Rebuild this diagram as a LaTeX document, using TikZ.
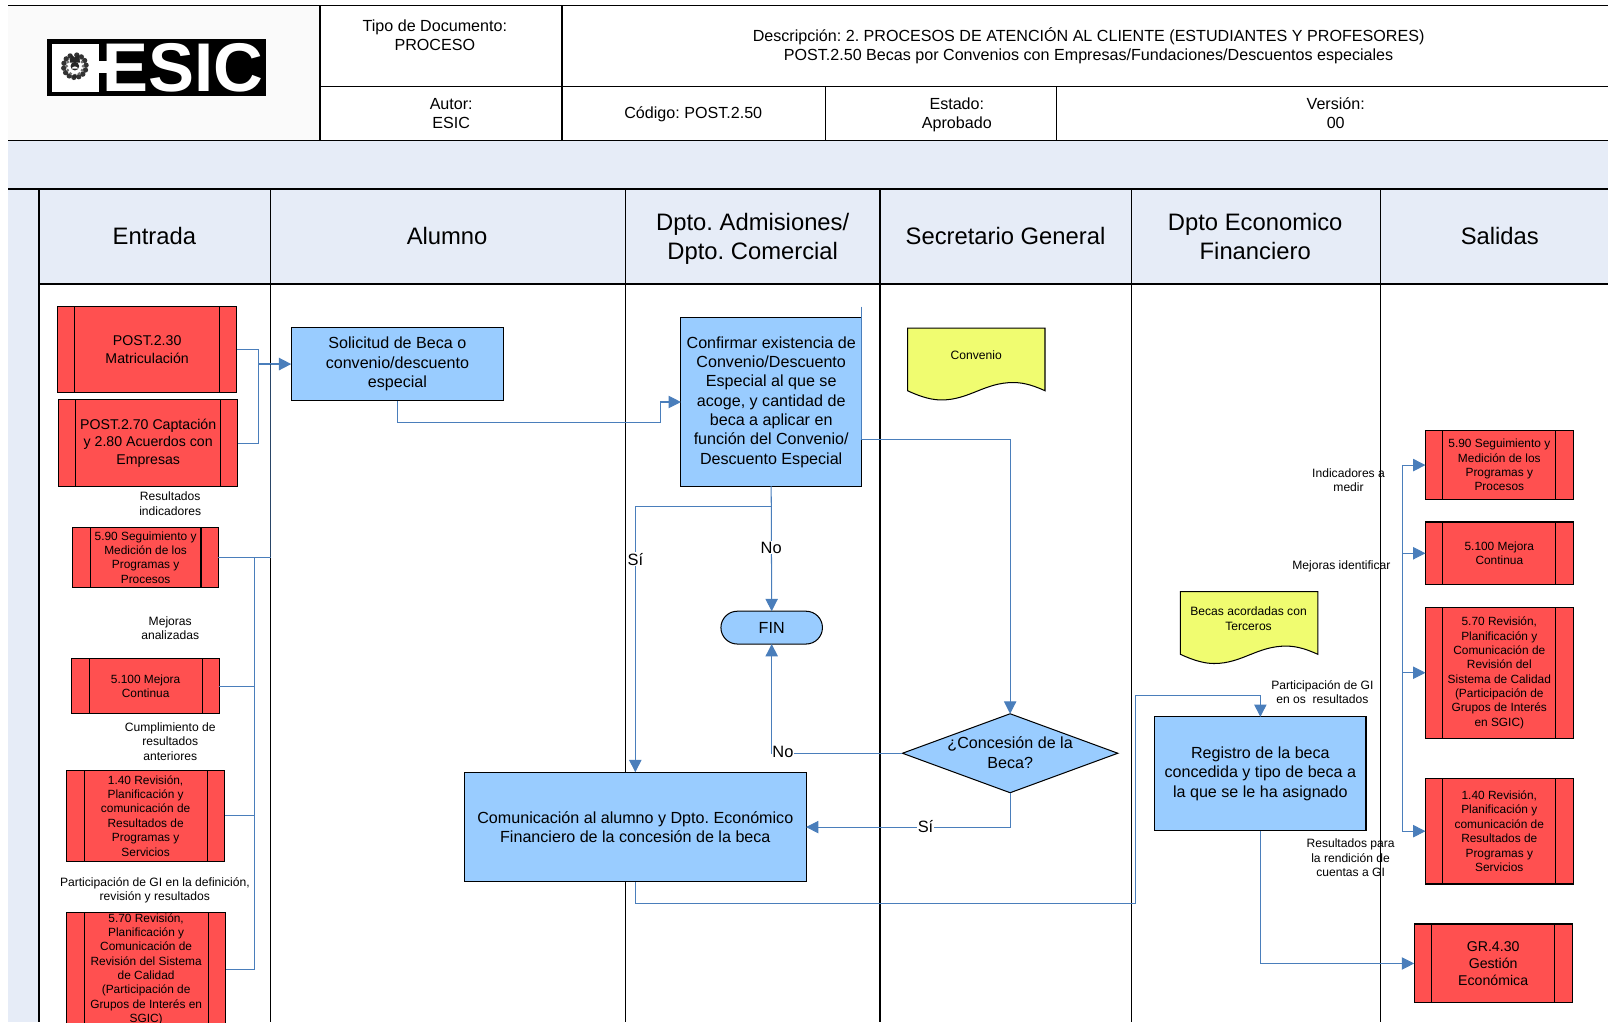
\documentclass[tikz,border=0pt]{standalone}
\usepackage{fontspec}
\setmainfont{Liberation Sans}
\usetikzlibrary{arrows.meta,shapes.geometric}
\definecolor{bandblue}{HTML}{E6ECF7}
\definecolor{cellgray}{HTML}{FAFAFA}
\definecolor{procred}{HTML}{FF5050}
\definecolor{flowblue}{HTML}{99CCFF}
\definecolor{docyellow}{HTML}{F0FC70}
\definecolor{connblue}{HTML}{4A7EBB}
\newcommand\fs[2]{\fontsize{#1pt}{#2pt}\selectfont}
\tikzset{
  gridline/.style={line width=0.6pt,black},
  link/.style={line width=0.5pt,connblue},
  tip/.style={-{Triangle[length=6pt,width=6pt]}},
  boxbase/.style={draw=black,line width=0.5pt,inner sep=0pt,outer sep=0pt,align=center},
  procbox/.style={boxbase,fill=procred,
    path picture={
      \draw[line width=0.5pt] ([xshift=8.5pt]path picture bounding box.north west) -- ([xshift=8.5pt]path picture bounding box.south west);
      \draw[line width=0.5pt] ([xshift=-8.5pt]path picture bounding box.north east) -- ([xshift=-8.5pt]path picture bounding box.south east);}},
  flowbox/.style={boxbase,fill=flowblue},
  pillbox/.style={boxbase,fill=flowblue,rounded corners=8pt},
  headtxt/.style={align=center,inner sep=0pt,font=\fs{7.85}{9.4}},
  lanetxt/.style={align=center,inner sep=0pt,font=\fs{11.6}{14}},
  smalltxt/.style={align=center,inner sep=0pt,font=\fs{5.9}{7}},
  reftxt/.style={font=\fs{5.8}{7}},
  bigref/.style={font=\fs{6.9}{8.4}},
  flowtxt/.style={font=\fs{7.85}{9.45}},
  arrowlbl/.style={fill=white,inner sep=0.4pt,font=\fs{8}{9.4}},
}
\newcommand\bx[7]{%
  \pgfmathsetmacro\cxx{(#2+#4)/2}\pgfmathsetmacro\cyy{(#3+#5)/2}%
  \pgfmathsetmacro\www{(#4-#2)/2}\pgfmathsetmacro\hhh{(#5-#3)/2}%
  \node[#6,minimum width=\www pt,minimum height=\hhh pt] (#1) at (\cxx,\cyy) {#7};}
\newcommand\docpath{(885,320) -- (1019,320) -- (1019,381) .. controls (1010,377) and (1000,373) .. (988,373) .. controls (960,373) and (945,390) .. (918,390) .. controls (910,390) and (900,388) .. (885,381) -- cycle}
\begin{document}
\frenchspacing
\begin{tikzpicture}[x=0.5pt,y=-0.5pt]
\useasboundingbox (0,0) rectangle (1568,996.6);
\clip (0,0) rectangle (1568,996.6);
% backgrounds
\fill[cellgray] (8,5) rectangle (312,137);
\fill[bandblue] (8,137) rectangle (1568,184);
\fill[bandblue] (8,184) rectangle (38,996.6);
\fill[bandblue] (38,184) rectangle (1568,277);
% header grid
\draw[gridline] (8,5) -- (1568,5);
\draw[gridline] (312,5) -- (312,137);
\draw[gridline] (548,5) -- (548,137);
\draw[gridline] (312,84) -- (1568,84);
\draw[gridline] (805,84) -- (805,137);
\draw[gridline] (1030,84) -- (1030,137);
\draw[gridline] (8,137) -- (1568,137);
\draw[line width=1pt] (8,184) -- (1568,184);
% lanes
\draw[gridline] (38,277) -- (1568,277);
\foreach \lx in {38,264,610,858,1103,1346} \draw[gridline] (\lx,184) -- (\lx,996.6);
% logo
\fill[black] (46,38.5) rectangle (259.5,94);
\fill[white] (50.5,42.5) rectangle (96.5,89.5);
\fill[white] (96.5,59.5) rectangle (107,71);
\node[inner sep=0pt,text=white,font=\fontsize{33.6pt}{34pt}\selectfont\bfseries] (logotext) at (178.5,66) {ESIC};
% emblem
\foreach \a in {-170,-145,...,170} \fill[black!80] (73,64.5) ++(\a+90:11) circle (2.6);
\foreach \a in {-150,-120,...,150} \fill[black!55] (73,64.5) ++(\a+90:8) circle (1.6);
\fill[white] (73,66) circle (6);
\fill[black!85] (73,64.5) circle (4.2);
\fill[black!85] (69,53) -- (73,56) -- (77,53) -- (78,61) -- (68,61) -- cycle;
\fill[white] (70,67) arc (180:360:3 and 2.2) -- cycle;
\fill[black!85] (73,74.5) circle (2);
% header texts
\node[headtxt] (tipo) at (424,34.5) {Tipo de Documento:\\PROCESO};
\node[headtxt] (desc) at (1061.5,44.5) {Descripción: 2. PROCESOS DE ATENCIÓN AL CLIENTE (ESTUDIANTES Y PROFESORES)\\POST.2.50 Becas por Convenios con Empresas/Fundaciones/Descuentos especiales};
\node[headtxt] (autor) at (440,110.5) {Autor:\\ESIC};
\node[headtxt] (codigo) at (676,111) {Código: POST.2.50};
\node[headtxt] (estado) at (933,112) {Estado:\\Aprobado};
\node[headtxt] (version) at (1302.5,110.5) {Versión:\\00};
% lane titles
\node[lanetxt] (l1) at (150.5,230) {Entrada};
\node[lanetxt] (l2) at (436,230) {Alumno};
\node[lanetxt] (l3) at (734,233) {Dpto. Admisiones/\\Dpto. Comercial};
\node[lanetxt] (l4) at (980.5,230) {Secretario General};
\node[lanetxt] (l5) at (1224,230.5) {Dpto Economico\\Financiero};
\node[lanetxt] (l6) at (1462.5,230) {Salidas};
% entry processes
\bx{p230}{56}{299}{231}{383}{procbox,bigref}{POST.2.30\\Matriculación}
\bx{p270}{57}{390}{232}{474}{procbox,bigref}{POST.2.70 Captación\\y 2.80 Acuerdos con\\Empresas}
\bx{e590}{71}{514}{213}{573}{procbox,reftxt}{5.90 Seguimiento y\\Medición de los\\Programas y\\Procesos}
\bx{e5100}{70}{642}{214}{696}{procbox,reftxt}{5.100 Mejora\\Continua}
\bx{e140}{65}{751}{219}{840}{procbox,reftxt}{1.40 Revisión,\\Planificación y\\comunicación de\\Resultados de\\Programas y\\Servicios}
\bx{e570}{65}{890}{220}{1000}{procbox,reftxt}{5.70 Revisión,\\Planificación y\\Comunicación de\\Revisión del Sistema\\de Calidad\\(Participación de\\Grupos de Interés en\\SGIC)}
% output processes
\bx{s590}{1390}{420}{1534}{487}{procbox,reftxt}{5.90 Seguimiento y\\Medición de los\\Programas y\\Procesos}
\bx{s5100}{1390}{509}{1534}{570}{procbox,reftxt}{5.100 Mejora\\Continua}
\bx{s570}{1390}{592}{1534}{720}{procbox,reftxt}{5.70 Revisión,\\Planificación y\\Comunicación de\\Revisión del\\Sistema de Calidad\\(Participación de\\Grupos de Interés\\en SGIC)}
\bx{s140}{1390}{759}{1534}{862}{procbox,reftxt}{1.40 Revisión,\\Planificación y\\comunicación de\\Resultados de\\Programas y\\Servicios}
\bx{gr}{1379}{901}{1533}{978}{procbox,bigref}{GR.4.30\\Gestión\\Económica}
% flow boxes
\bx{sol}{284}{319}{491}{391}{flowbox,flowtxt}{Solicitud de Beca o\\convenio/descuento\\especial}
\bx{conf}{664}{310}{840}{474}{flowbox,flowtxt}{Confirmar existencia de\\Convenio/Descuento\\Especial al que se\\acoge, y cantidad de\\beca a aplicar en\\función del Convenio/\\Descuento Especial}
\bx{fin}{703}{596}{802}{628}{pillbox,flowtxt}{FIN}
\bx{com}{453}{753}{786}{860}{flowbox,flowtxt}{Comunicación al alumno y Dpto. Económico\\Financiero de la concesión de la beca}
\bx{reg}{1126}{699}{1332}{810}{flowbox,flowtxt}{Registro de la beca\\concedida y tipo de beca a\\la que se le ha asignado}
\node[diamond,boxbase,fill=flowblue,minimum width=105pt,minimum height=38.5pt] (dia) at (985,734.5) {};
\node[align=center,inner sep=0pt,flowtxt] (diatext) at (985,734) {¿Concesión de la\\Beca?};
% documents
\draw[line width=0.5pt,fill=docyellow] \docpath;
\node[smalltxt] (conv) at (952,346) {Convenio};
\begin{scope}[shift={(266,257)}]
\draw[line width=0.5pt,fill=docyellow] \docpath;
\end{scope}
\node[smalltxt,font=\fs{5.9}{7.4}] (becas) at (1217.5,603.5) {Becas acordadas con\\Terceros};
% connector joints
\coordinate (jA) at (252,355);
\coordinate (jC) at (264,355);
\coordinate (jD) at (248,543.5);
\coordinate (jE) at (644,412);
\coordinate (stub) at (840,299);
\coordinate (jF) at (840,429);
\coordinate (jG) at (752,494);
\coordinate (jH) at (1107,881);
\coordinate (jI) at (1229,678);
\coordinate (busT) at (1368,453.5);
% connectors
\draw[link] (p230.east) -| (jA);
\draw[link] (p270.east) -| (jA);
\draw[link,line width=0.8pt,tip] (jA) -- (sol.west);
\draw[link] (e590.east) -| (jC);
\draw[line width=0.65pt,connblue!55!black] (e590.east -| jC) -- (jC);
\draw[link] (jD) |- (e5100.east);
\draw[link] (jD) |- (e140.east);
\draw[link] (jD) |- (e570.east);
\draw[link,tip] (sol.south) |- (jE) |- (conf.west);
\draw[link,tip] (stub) -- (jF) -| (dia.north);
\draw[link,tip] (conf.south) -- (fin.north);
\draw[link,tip] (jG) -| (com.north);
\draw[link,tip] (dia.west) -| (fin.south);
\draw[link,tip] (dia.south) |- (com.east);
\draw[link,tip] (com.south) |- (jH) |- (jI) -- (reg.north);
\draw[link,tip] (reg.south) |- (gr.west);
\draw[link,tip] (busT) -- (s590.west);
\draw[link,tip] (busT) |- (s5100.west);
\draw[link,tip] (busT) |- (s570.west);
\draw[link,tip] (busT) |- (s140.west);
% connector labels
\node[arrowlbl] (no1) at (752,534) {No};
\node[arrowlbl] (si1) at (619.5,545.5) {Sí};
\node[arrowlbl] (no2) at (763.5,733) {No};
\node[arrowlbl] (si2) at (902.5,806) {Sí};
% free labels
\node[smalltxt] (t1) at (166,491) {Resultados\\indicadores};
\node[smalltxt] (t2) at (166,612.5) {Mejoras\\analizadas};
\node[smalltxt] (t3) at (166,723) {Cumplimiento de\\resultados\\anteriores};
\node[smalltxt] (t4) at (151,868) {Participación de GI en la definición,\\revisión y resultados};
\node[smalltxt] (t5) at (1315,468.5) {Indicadores a\\medir};
\node[smalltxt] (t6) at (1308,552) {Mejoras identificar};
\node[smalltxt] (t7) at (1289.5,675) {Participación de GI\\en os\ \ resultados};
\node[smalltxt] (t8) at (1317,836.5) {Resultados para\\la rendición de\\cuentas a GI};
\end{tikzpicture}
\end{document}
